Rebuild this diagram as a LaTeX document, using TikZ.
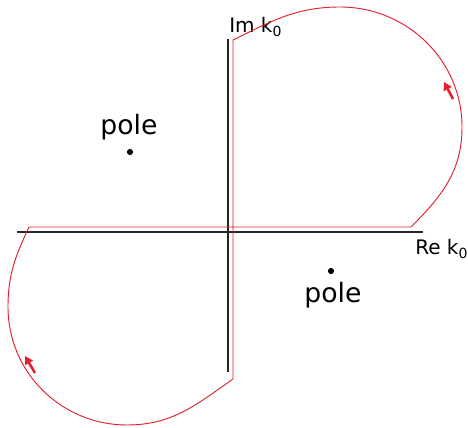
\documentclass[tikz,border=0pt]{standalone}
\usepackage{fontspec}
\setmainfont{DejaVu Sans}
\usepackage{xcolor}
\usetikzlibrary{arrows.meta}
\definecolor{contourred}{RGB}{228,30,45}

\begin{document}
\begin{tikzpicture}[x=0.75pt,y=0.75pt]
\tikzstyle{axis}=[draw=black!85,line width=0.9pt]
\tikzstyle{contour}=[draw=contourred,line width=0.7pt]
\tikzstyle{dirarrow}=[contourred,line width=1.9pt,-{Triangle[length=6pt,width=6.5pt]}]
\tikzstyle{polelabel}=[font=\fontsize{20}{24}\selectfont,anchor=base,inner sep=0pt]
\tikzstyle{axislabel}=[font=\fontsize{15}{18}\selectfont,anchor=base west,inner sep=0pt]
\useasboundingbox (0,0) rectangle (468,428);
% axes
\coordinate (reL) at (17,196);
\coordinate (reR) at (423,196);
\coordinate (imT) at (228,389);
\coordinate (imB) at (228,56);
\draw[axis] (reL) -- (reR);
\draw[axis] (imT) -- (imB);
\node[axislabel] (relabel) at (415,173) {Re k\textsubscript{0}};
\node[axislabel] (imlabel) at (229,395) {Im k\textsubscript{0}};
% contour points
\coordinate (a) at (233,388);
\coordinate (top) at (340,421);
\coordinate (right) at (462,301);
\coordinate (b) at (411,201);
\coordinate (c) at (29,201);
\coordinate (left) at (8,121);
\coordinate (bot) at (127,3);
\coordinate (d) at (233,49);
% contour
\draw[contour] (d) -- (a)
  to[out=26,in=180] (top)
  to[out=0,in=90] (right)
  to[out=-90,in=45] (b)
  -- (c)
  to[out=245,in=90] (left)
  to[out=-90,in=180] (bot)
  to[out=0,in=215] (d);
% direction arrows
\coordinate (ua1) at (453,329);
\coordinate (ua2) at (444,346);
\coordinate (la1) at (35,55);
\coordinate (la2) at (25,72);
\draw[dirarrow] (ua1) -- (ua2);
\draw[dirarrow] (la1) -- (la2);
% poles
\fill (130,276) circle (2.3pt) coordinate (p1);
\node[polelabel] (pole1) at (129,293) {pole};
\fill (331,157) circle (2.3pt) coordinate (p2);
\node[polelabel] (pole2) at (333,125) {pole};
\end{tikzpicture}
\end{document}
